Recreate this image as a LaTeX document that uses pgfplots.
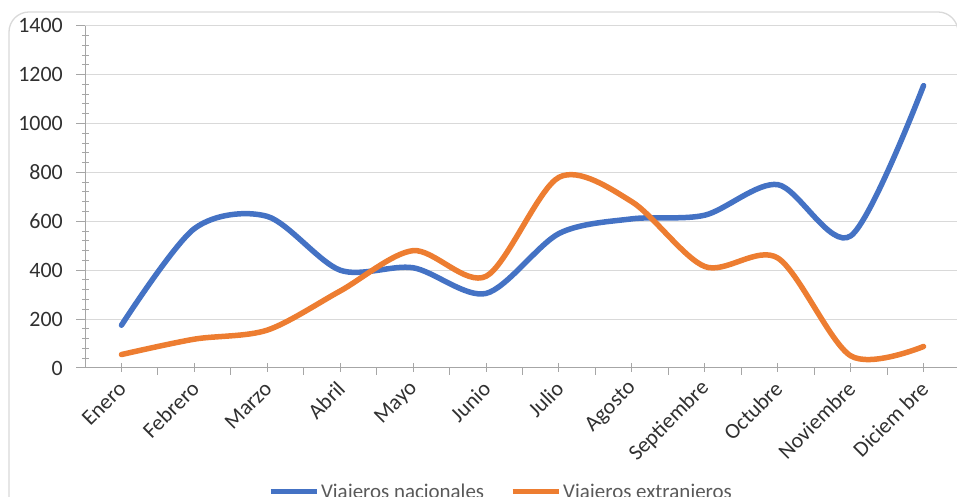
\documentclass[border=0pt]{standalone}
\usepackage{pgfplots}
\pgfplotsset{compat=1.18}
\usepackage{fontspec}
\setmainfont{Carlito}
\definecolor{natblue}{HTML}{4472C4}
\definecolor{extorange}{HTML}{ED7D31}
\definecolor{gridgray}{HTML}{D9D9D9}
\definecolor{axisgray}{HTML}{A6A6A6}
\definecolor{labelgray}{HTML}{303030}
\definecolor{legendgray}{HTML}{595959}

\begin{document}
\begin{tikzpicture}[x=1bp,y=1bp]
\useasboundingbox (0,0) rectangle (957,497);
\clip (0,0) rectangle (957,497);
% outer chart frame
\draw[gridgray, line width=1.3bp, rounded corners=20bp] (9,-60) -- (9,485) -- (958,485) -- (958,-60);
\begin{axis}[
  at={(85bp,129bp)}, anchor=south west,
  scale only axis, width=875bp, height=342.3bp,
  xmin=-0.5, xmax=11.5, ymin=0, ymax=1400,
  axis x line=bottom, axis y line=left,
  axis line style={-, axisgray, line width=1bp},
  xtick={0,...,11},
  xticklabels={Enero,Febrero,Marzo,Abril,Mayo,Junio,Julio,Agosto,Septiembre,Octubre,Noviembre,Diciem bre},
  minor x tick num=1,
  ytick={0,200,...,1400},
  minor y tick num=4,
  ymajorgrids, grid style={gridgray, line width=1bp},
  tick align=outside,
  major tick length=9bp, minor tick length=7bp,
  tick style={axisgray, line width=1bp},
  minor y tick style={xshift=4bp},
  major x tick style={yshift=5bp},
  /pgf/number format/assume math mode=true,
  /pgf/number format/1000 sep={},
  ticklabel style={font=\fontsize{22}{26}\selectfont, text=labelgray},
  yticklabel style={inner sep=0pt, xshift=-13bp},
  xticklabel style={inner sep=0pt, yshift=-8bp, xshift=1bp, rotate=45, anchor=east},
  legend style={at={(0.4754,-0.362)}, anchor=center, draw=none, fill=none,
    legend columns=2, font=\fontsize{21}{25}\selectfont, text=legendgray,
    inner sep=0pt, nodes={inner sep=2bp},
    /tikz/every even column/.append style={column sep=24bp}},
  legend image code/.code={\draw[#1, line width=5bp, line cap=butt] (0bp,0bp) -- (46bp,0bp);},
  every axis plot/.append style={line width=5.5bp, line cap=round, smooth, tension=0.5, mark=none},
]
\addplot[natblue] coordinates {
  (0,175) (1,570) (2,620) (3,400) (4,410) (5,305)
  (6,550) (7,610) (8,625) (9,750) (10,540) (11,1155)
};
\addlegendentry{Viajeros nacionales}
\addplot[extorange] coordinates {
  (0,55) (1,118) (2,155) (3,315) (4,480) (5,375)
  (6,780) (7,680) (8,415) (9,450) (10,50) (11,88)
};
\addlegendentry{Viajeros extranjeros}
\end{axis}
\end{tikzpicture}
\end{document}
